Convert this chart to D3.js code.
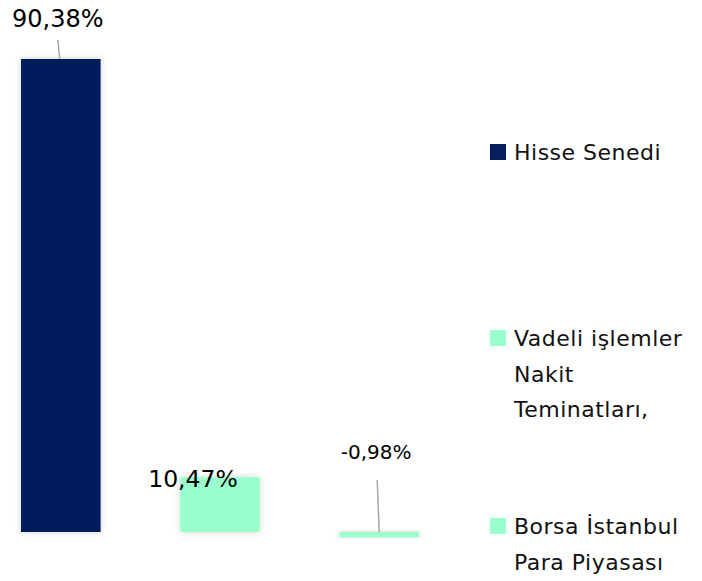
<!DOCTYPE html>
<html lang="tr">
<head>
<meta charset="UTF-8" />
<script src="https://d3js.org/d3.v7.min.js"></script>
<style>
  body { margin: 0; background: #fff; }
  svg { display: block; font-family: "DejaVu Sans", "Open Sans", sans-serif; }
</style>
</head>
<body>
<svg id="chart" width="702" height="581"></svg>
<script>
const categories = ['Hisse Senedi', 'Vadeli işlemler Nakit Teminatları,', 'Borsa İstanbul Para Piyasası'];
const values = [90.38, 10.47, -0.98];
const valueLabels = ['90,38%', '10,47%', '-0,98%'];
const colors = ['#061f5c', '#99ffcc', '#99ffcc'];
const legendLines = [['Hisse Senedi'], ['Vadeli işlemler', 'Nakit', 'Teminatları,'], ['Borsa İstanbul', 'Para Piyasası']];

const svg = d3.select('#chart');

const defs = svg.append('defs');
const f = defs.append('filter').attr('id', 'shadow')
  .attr('x', '-20%').attr('y', '-20%').attr('width', '140%').attr('height', '140%');
f.append('feDropShadow').attr('dx', 0).attr('dy', 0).attr('stdDeviation', 3)
  .attr('flood-color', '#000').attr('flood-opacity', 0.18);

const x = d3.scaleBand()
  .domain(categories)
  .range([21, 419])
  .paddingInner(0.5)
  .paddingOuter(0);

const y = d3.scaleLinear()
  .domain([0, 90.38])
  .range([532, 59]);

const data = categories.map((c, i) => ({ cat: c, value: values[i], label: valueLabels[i], color: colors[i] }));

svg.append('g').selectAll('rect').data(data).enter().append('rect')
  .attr('x', d => x(d.cat))
  .attr('width', x.bandwidth())
  .attr('y', d => y(Math.max(0, d.value)))
  .attr('height', d => Math.abs(y(d.value) - y(0)))
  .attr('fill', d => d.color)
  .attr('filter', 'url(#shadow)');

const cx = d => x(d.cat) + x.bandwidth() / 2;

// 90,38%
const d0 = data[0];
svg.append('line')
  .attr('x1', cx(d0) - 3).attr('y1', 40)
  .attr('x2', cx(d0) - 1).attr('y2', y(d0.value))
  .attr('stroke', '#a6a6a6').attr('stroke-width', 1.5);
svg.append('text')
  .attr('x', cx(d0) - 3).attr('y', 27)
  .attr('text-anchor', 'middle')
  .attr('font-size', 24)
  .attr('fill', '#000')
  .text(d0.label);

// 10,47%
const d1 = data[1];
svg.append('text')
  .attr('x', cx(d1) - 27).attr('y', 487)
  .attr('text-anchor', 'middle')
  .attr('font-size', 23.5)
  .attr('fill', '#000')
  .text(d1.label);

// -0,98%
const d2 = data[2];
svg.append('line')
  .attr('x1', cx(d2) - 2).attr('y1', 480)
  .attr('x2', cx(d2)).attr('y2', y(0))
  .attr('stroke', '#a6a6a6').attr('stroke-width', 1.5);
svg.append('text')
  .attr('x', cx(d2) - 3).attr('y', 459)
  .attr('text-anchor', 'middle')
  .attr('font-size', 20)
  .attr('fill', '#000')
  .text(d2.label);

// legend
const legendY = [152, 338, 526];
const legend = svg.append('g');
data.forEach((d, i) => {
  const g = legend.append('g').attr('transform', `translate(490,${legendY[i]})`);
  g.append('rect').attr('x', 0).attr('y', -8).attr('width', 16).attr('height', 16).attr('fill', d.color);
  legendLines[i].forEach((t, j) => {
    g.append('text')
      .attr('x', 24).attr('y', 8 + j * 35.5)
      .attr('font-size', 22)
      .attr('letter-spacing', 0.5)
      .attr('fill', '#111')
      .text(t);
  });
});
</script>
</body>
</html>
